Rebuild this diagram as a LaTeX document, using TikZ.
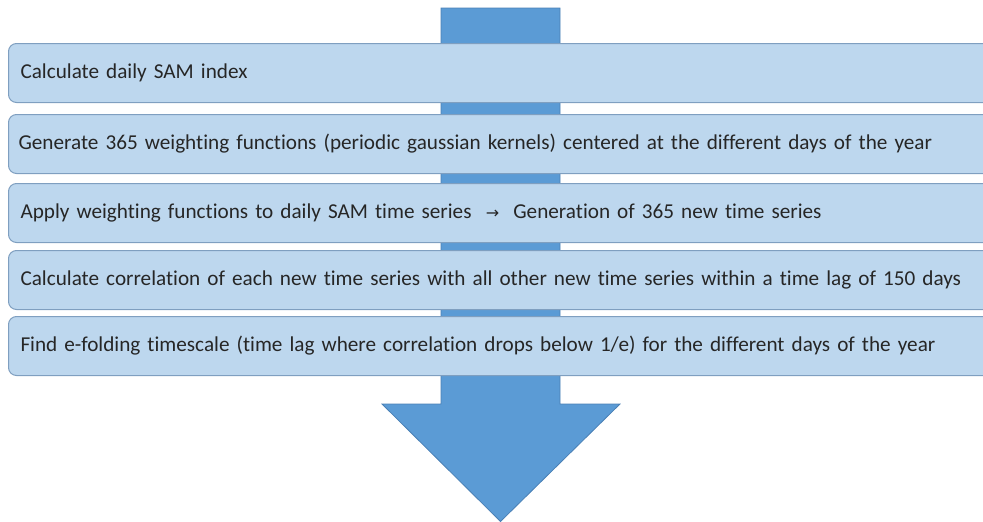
\documentclass[tikz,border=0pt]{standalone}
\usepackage{fontspec}
\setmainfont{Carlito}[Ligatures=NoCommon]
\definecolor{boxfill}{HTML}{BDD7EE}
\definecolor{boxline}{HTML}{7F9FC0}
\definecolor{arrowfill}{HTML}{5B9BD5}
\definecolor{arrowline}{HTML}{4A80B5}
\begin{document}
\begin{tikzpicture}[x=1pt,y=-1pt,
  stepbox/.style={rectangle, rounded corners=8pt, fill=boxfill, draw=boxline, line width=1pt,
    anchor=north west, minimum height=59pt, text width=966pt, inner xsep=12pt, inner ysep=0pt,
    align=left, font=\fontsize{21.2}{24}\selectfont, text=black!85},
  bigarrow/.style={fill=arrowfill, draw=arrowline, line width=0.8pt, line join=miter}]
\useasboundingbox (0,0) rectangle (983,522);
\clip (0,0) rectangle (983,522);
\draw[bigarrow] (441,8) -- (560,8) -- (560,404) -- (620,404) -- (500.5,521.5) -- (382,404) -- (441,404) -- cycle;
\node[stepbox] (s1) at (8,43) {Calculate daily SAM index};
\node[stepbox, inner xsep=10pt] (s2) at (8,114) {Generate 365 weighting functions (periodic gaussian kernels) centered at the different days of the year};
\node[stepbox] (s3) at (8,183) {Apply weighting functions to daily SAM time series~ \raisebox{0.5pt}{\fontspec{DejaVu Sans}\fontsize{16}{18}\selectfont →}~ Generation of 365 new time series};
\node[stepbox] (s4) at (8,250) {Calculate correlation of each new time series with all other new time series within a time lag of 150 days};
\node[stepbox] (s5) at (8,316) {Find e-folding timescale (time lag where correlation drops below 1/e) for the different days of the year};
\end{tikzpicture}
\end{document}
